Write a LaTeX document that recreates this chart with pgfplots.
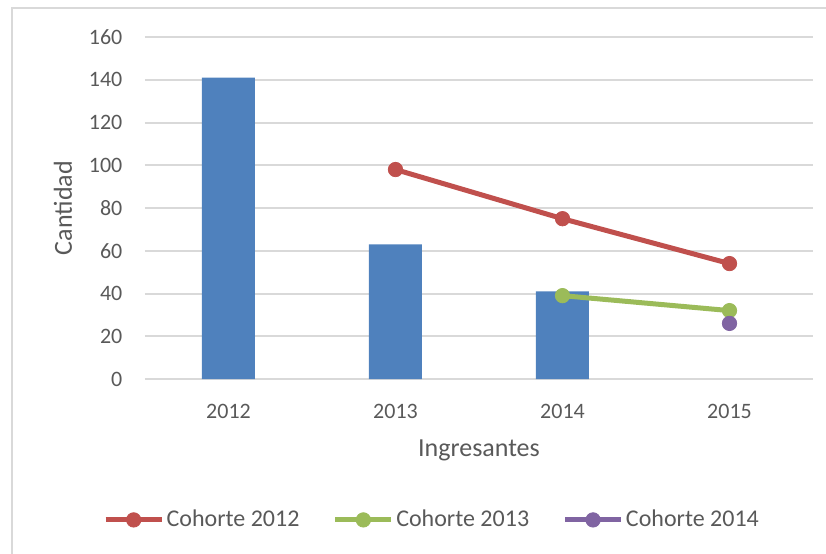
\documentclass[border=0pt]{standalone}
\usepackage{pgfplots}
\pgfplotsset{compat=1.18}
\usepackage{fontspec}
\setmainfont{Carlito}
\definecolor{barblue}{HTML}{4F81BD}
\definecolor{cred}{HTML}{C0504D}
\definecolor{cgreen}{HTML}{9BBB59}
\definecolor{cpurple}{HTML}{8064A2}
\definecolor{gridgray}{HTML}{D9D9D9}
\definecolor{txtgray}{HTML}{595959}
\begin{document}
\begin{tikzpicture}
\useasboundingbox (-72.5pt,-87pt) rectangle (340.5pt,189.5pt);
\draw[gridgray, line width=1pt] (-66.5pt,-90pt) -- (-66.5pt,185.5pt) -- (345pt,185.5pt);
\begin{axis}[
  at={(0,0)}, anchor=south west,
  scale only axis, width=334pt, height=171pt,
  xmin=-0.5, xmax=3.5, ymin=0, ymax=160,
  xtick={0,1,2,3}, xticklabels={2012,2013,2014,2015},
  ytick={0,20,40,60,80,100,120,140,160},
  yticklabels={0,20,40,60,80,100,120,140,160},
  ymajorgrids, grid style={gridgray, line width=1pt},
  axis line style={draw=none},
  tick style={draw=none},
  /pgf/number format/assume math mode=true,
  ticklabel style={font=\fontsize{11}{13}\selectfont, text=txtgray},
  yticklabel style={xshift=-7.8pt},
  xticklabel style={yshift=-9.3pt},
  xlabel={Ingresantes}, ylabel={Cantidad},
  xlabel style={at={(axis description cs:0.5,-0.228)}, anchor=base, font=\fontsize{13}{15}\selectfont, text=txtgray},
  ylabel style={at={(axis description cs:-0.1228,0.5)}, anchor=center, rotate=0, font=\fontsize{13}{15}\selectfont, text=txtgray},
  legend style={at={(axis description cs:0.43,-0.412)}, anchor=center, draw=none, fill=none,
    font=\fontsize{12}{14}\selectfont, text=txtgray, inner sep=0pt,
    /tikz/every even column/.append style={column sep=15.5pt},
    nodes={inner sep=1.2pt}},
  legend columns=3,
  legend image code/.code={
    \draw[mark repeat=2,mark phase=2] plot coordinates {(0pt,0pt) (14pt,0pt) (28pt,0pt)};
  },
]
\addplot[ybar, bar width=26.5pt, fill=barblue, draw=none, forget plot] coordinates {(0,141) (1,63) (2,41)};
\addplot[color=cred, line width=2.5pt, mark=*, mark size=3.6pt, mark options={line width=0.4pt, solid}] coordinates {(1,98) (2,75) (3,54)};
\addlegendentry{Cohorte 2012}
\addplot[color=cgreen, line width=2.5pt, mark=*, mark size=3.6pt, mark options={line width=0.4pt, solid}] coordinates {(2,39) (3,32)};
\addlegendentry{Cohorte 2013}
\addplot[color=cpurple, line width=2.5pt, mark=*, mark size=3.6pt, mark options={line width=0.4pt, solid}] coordinates {(3,26)};
\addlegendentry{Cohorte 2014}
\end{axis}
\end{tikzpicture}
\end{document}
